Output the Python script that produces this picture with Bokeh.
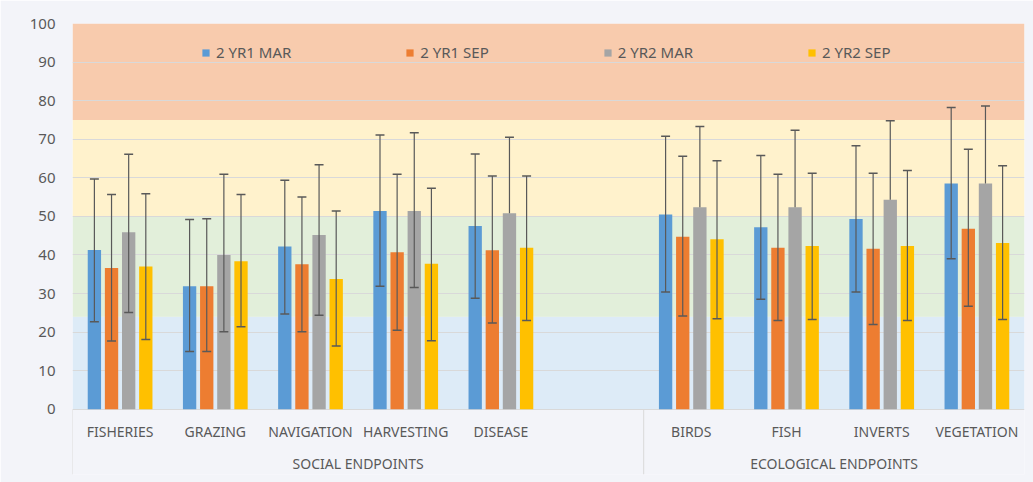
from bokeh.plotting import figure
from bokeh.models import FactorRange, Range1d, FixedTicker, ColumnDataSource, BoxAnnotation
from bokeh.transform import dodge
from bokeh.core.properties import value
from bokeh.embed import file_html
from bokeh.resources import INLINE

# ---------------- data ----------------
groups = ["SOCIAL ENDPOINTS", "ECOLOGICAL ENDPOINTS"]
social = ["FISHERIES", "GRAZING", "NAVIGATION", "HARVESTING", "DISEASE"]
ecological = ["BIRDS", "FISH", "INVERTS", "VEGETATION"]
series = ["2 YR1 MAR", "2 YR1 SEP", "2 YR2 MAR", "2 YR2 SEP"]
colors = ["#5B9BD5", "#ED7D31", "#A5A5A5", "#FFC000"]

yr1_mar = [41.3, 31.9, 42.2, 51.4, 47.5, 50.5, 47.2, 49.3, 58.5]
yr1_mar_lo = [22.7, 15.0, 24.7, 31.9, 28.8, 30.4, 28.5, 30.4, 39.0]
yr1_mar_hi = [59.7, 49.2, 59.4, 71.1, 66.2, 70.8, 65.8, 68.3, 78.2]

yr1_sep = [36.6, 31.9, 37.6, 40.7, 41.2, 44.7, 41.9, 41.6, 46.8]
yr1_sep_lo = [17.7, 15.0, 20.1, 20.5, 22.4, 24.2, 23.0, 22.0, 26.7]
yr1_sep_hi = [55.7, 49.4, 55.0, 60.9, 60.5, 65.6, 60.9, 61.2, 67.4]

yr2_mar = [45.9, 40.0, 45.2, 51.4, 50.8, 52.4, 52.4, 54.3, 58.5]
yr2_mar_lo = [25.1, 20.1, 24.4, 31.6, None, None, None, None, None]
yr2_mar_hi = [66.1, 60.9, 63.4, 71.7, 70.5, 73.3, 72.3, 74.8, 78.6]

yr2_sep = [37.0, 38.4, 33.8, 37.7, 41.9, 44.1, 42.3, 42.3, 43.1]
yr2_sep_lo = [18.1, 21.4, 16.4, 17.8, 23.0, 23.5, 23.3, 23.0, 23.3]
yr2_sep_hi = [55.9, 55.7, 51.4, 57.3, 60.5, 64.4, 61.2, 61.9, 63.1]

y_ticks = [0, 10, 20, 30, 40, 50, 60, 70, 80, 90, 100]
band_edges = [0, 24, 50, 75, 100]
band_colors = ["#DDEBF7", "#E2EFDA", "#FFF2CC", "#F8CBAD"]

# ---------------- style ----------------
BG = "#F3F4F9"
TXT = "#595959"
GRID = "#D9D9D9"
ERR = "#595959"
FONT = "Noto Sans"
offsets = [-0.27, -0.09, 0.09, 0.27]
bar_w = 0.14
cap = 0.047

factors = [(groups[0], c) for c in social] + [(groups[0], " ")] + [(groups[1], c) for c in ecological]
cats = [(groups[0], c) for c in social] + [(groups[1], c) for c in ecological]

x_range = FactorRange(*factors, factor_padding=0, group_padding=0, subgroup_padding=0, range_padding=0)

p = figure(x_range=x_range, y_range=Range1d(-16.9, 100), width=1033, height=482,
           x_axis_location=None, output_backend="svg", toolbar_location=None,
           min_border_left=72, min_border_right=9, min_border_top=23, min_border_bottom=8,
           background_fill_color=BG, border_fill_color=BG, outline_line_color=None)

# background bands
for i, c in enumerate(band_colors):
    p.add_layout(BoxAnnotation(bottom=band_edges[i], top=band_edges[i + 1], fill_color=c,
                               fill_alpha=1, line_color=None, level="image"))

# axes / grid
p.yaxis.ticker = FixedTicker(ticks=y_ticks)
p.yaxis.axis_line_color = None
p.yaxis.major_tick_line_color = None
p.yaxis.minor_tick_line_color = None
p.yaxis.major_tick_out = 0
p.yaxis.major_label_standoff = 17
p.yaxis.major_label_text_font = FONT
p.yaxis.major_label_text_font_size = "15px"
p.yaxis.major_label_text_color = TXT
p.xgrid.grid_line_color = None
p.ygrid.grid_line_color = GRID
p.ygrid.grid_line_width = 1

all_series = [
    (yr1_mar, yr1_mar_lo, yr1_mar_hi),
    (yr1_sep, yr1_sep_lo, yr1_sep_hi),
    (yr2_mar, yr2_mar_lo, yr2_mar_hi),
    (yr2_sep, yr2_sep_lo, yr2_sep_hi),
]

for i, (vals, lo, hi) in enumerate(all_series):
    stem_lo = [l if l is not None else v for l, v in zip(lo, vals)]
    cap_lo = [l if l is not None else float("nan") for l in lo]
    src = ColumnDataSource(dict(x=cats, top=vals, stem_lo=stem_lo, cap_lo=cap_lo, hi=hi))
    off = offsets[i]
    p.vbar(x=dodge("x", off, range=x_range), top="top", width=bar_w, source=src,
           fill_color=colors[i], line_color=None, legend_label=series[i])
    p.segment(x0=dodge("x", off, range=x_range), y0="stem_lo", x1=dodge("x", off, range=x_range),
              y1="hi", source=src, line_color=ERR, line_width=1.2)
    p.segment(x0=dodge("x", off - cap, range=x_range), y0="hi", x1=dodge("x", off + cap, range=x_range),
              y1="hi", source=src, line_color=ERR, line_width=1.5)
    p.segment(x0=dodge("x", off - cap, range=x_range), y0="cap_lo", x1=dodge("x", off + cap, range=x_range),
              y1="cap_lo", source=src, line_color=ERR, line_width=1.5)

# category labels
lab_src = ColumnDataSource(dict(x=cats, label=[c[1] for c in cats]))
p.text(x="x", y=-5.8, text="label", source=lab_src, text_font=value(FONT), text_font_size="14px",
       text_color=TXT, text_align="center", text_baseline="middle")
grp_src = ColumnDataSource(dict(x=groups, label=groups))
p.text(x="x", y=-14.0, text="label", source=grp_src, text_font=value(FONT), text_font_size="14px",
       text_color=TXT, text_align="center", text_baseline="middle")

# group dividers
div_x = [(groups[0], social[0], -0.5), (groups[1], ecological[0], -0.5)]
p.segment(x0=div_x, y0=[0, 0], x1=div_x, y1=[-16.9, -16.9], line_color=GRID, line_width=1)

# legend
lg = p.legend[0]
lg.orientation = "horizontal"
lg.location = (129, 412)
lg.padding = 0
lg.margin = 0
lg.spacing = 114
lg.glyph_width = 9
lg.glyph_height = 9
lg.label_standoff = 6
lg.label_height = 20
lg.label_text_font = FONT
lg.label_text_font_size = "15px"
lg.label_text_color = TXT
lg.border_line_color = None
lg.background_fill_alpha = 0

open("out.html", "w").write(file_html(p, INLINE))
